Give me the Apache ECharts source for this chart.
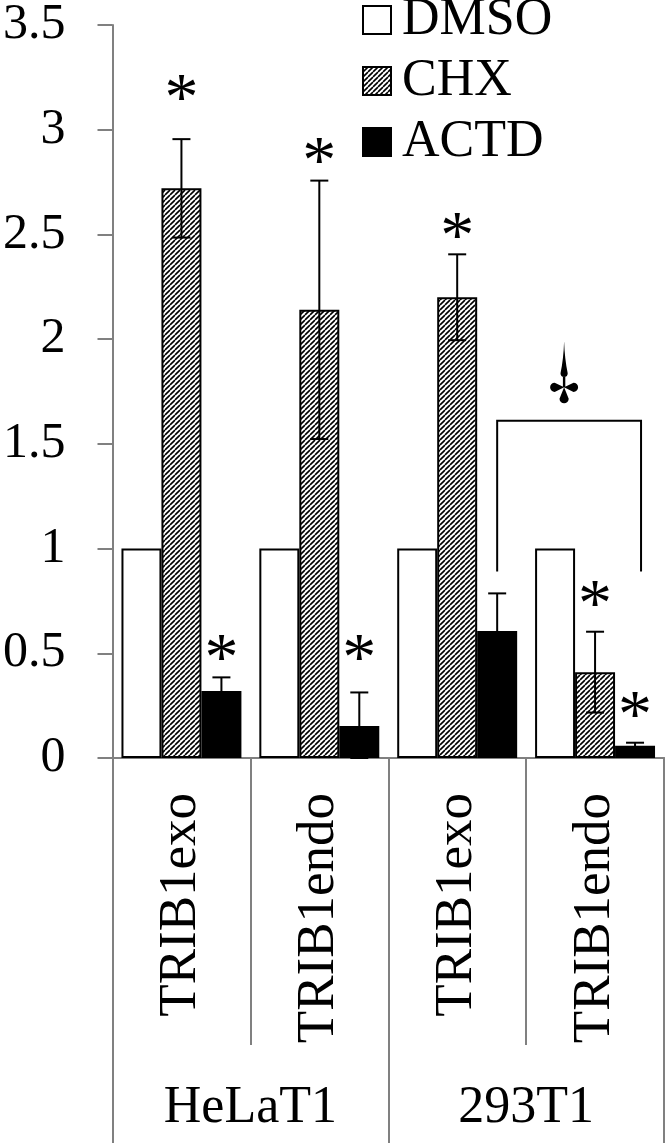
<!DOCTYPE html>
<html>
<head>
<meta charset="utf-8">
<script src="https://cdn.jsdelivr.net/npm/echarts@6/dist/echarts.min.js"></script>
<style>
html,body{margin:0;padding:0;background:#fff;}
#chart{width:665px;height:1143px;}
</style>
</head>
<body>
<div id="chart"></div>
<script>
// ---- data ----
const categories = ['TRIB1exo', 'TRIB1endo', 'TRIB1exo', 'TRIB1endo'];
const groups = ['HeLaT1', '293T1'];
const seriesNames = ['DMSO', 'CHX', 'ACTD'];
const dmso = [1, 1, 1, 1];
const chx = [2.72, 2.14, 2.20, 0.41];
const chxErr = [0.235, 0.617, 0.205, 0.193];
const actd = [0.32, 0.153, 0.606, 0.059];
const actdErr = [0.065, 0.16, 0.18, 0.014];
// significance stars: [category index, series index, y value]
const stars = [[0, 1, 3.20], [0, 2, 0.525], [1, 1, 2.895], [1, 2, 0.525], [2, 1, 2.537], [3, 1, 0.783], [3, 2, 0.253]];
// bracket: [from category, to category, series index, top value, leg value, mark value]
const bracket = [[2, 3, 2, 1.61, 0.89, 1.77]];
const yTicks = {min: 0, max: 3.5, interval: 0.5};

const FONT = '"Liberation Serif", "Times New Roman", serif';
const GRAY = '#808080';
const GAP = 0.13;
const STAR_SIZE = 68;

function makeHatch() {
  const s = 5;
  const c = document.createElement('canvas');
  c.width = s; c.height = s;
  const g = c.getContext('2d');
  g.fillStyle = '#fff';
  g.fillRect(0, 0, s, s);
  g.strokeStyle = '#000';
  g.lineWidth = 1.6;
  g.beginPath();
  for (let k = -1; k <= 2; k++) {
    g.moveTo(k * s, s);
    g.lineTo(k * s + s, 0);
  }
  g.stroke();
  return c;
}
const hatch = {image: makeHatch(), repeat: 'repeat'};

const errData = [];
chx.forEach((v, i) => errData.push([i, 1, v, chxErr[i]]));
actd.forEach((v, i) => errData.push([i, 2, v, actdErr[i]]));

function barWidth(api) {
  return api.size([1, 0])[0] * (1 - GAP) / 3;
}

// dagger-like glyph: teardrop lobes (narrow end at the centre) and a long top spike
function lobe(angle, d, r) {
  // lobe pointing down (angle 0), rotated by angle
  const pts = [[0, 0], [r, d - r], [-r, d - r]];
  const c = Math.cos(angle), s = Math.sin(angle);
  const rot = p => [p[0] * c - p[1] * s, p[0] * s + p[1] * c];
  const a = rot(pts[1]), b = rot(pts[2]);
  return 'M0 0 L' + a[0].toFixed(2) + ' ' + a[1].toFixed(2) +
    ' A' + r + ' ' + r + ' 0 1 1 ' + b[0].toFixed(2) + ' ' + b[1].toFixed(2) + ' Z ';
}
const daggerPath =
  lobe(0, 16, 4.6) +
  lobe(Math.PI / 2, 14, 4.6) +
  lobe(-Math.PI / 2, 14, 4.6) +
  'M0 -46 Q0.6 -28 3.6 -14 A3.6 3.6 0 0 1 -3.6 -14 Q-0.6 -28 0 -46 Z ' +
  'M-1.2 -12 L1.2 -12 L1.2 0 L-1.2 0 Z';

const chart = echarts.init(document.getElementById('chart'));
chart.setOption({
  animation: false,
  backgroundColor: '#fff',
  grid: {left: 110, right: 1, top: 25, bottom: 385, containLabel: false},
  legend: {
    orient: 'vertical',
    left: 362,
    top: -6,
    padding: 0,
    icon: 'rect',
    itemWidth: 28,
    itemHeight: 28,
    itemGap: 9,
    textStyle: {fontSize: 52, lineHeight: 52, fontFamily: FONT, color: '#000', padding: [0, 0, 0, 6]},
    data: [
      {name: 'DMSO', icon: 'rect', itemStyle: {color: '#fff', borderColor: '#000', borderWidth: 2}},
      {name: 'CHX', icon: 'rect', itemStyle: {color: hatch, borderColor: '#000', borderWidth: 2}},
      {name: 'ACTD', icon: 'rect', itemStyle: {color: '#000', borderColor: '#000', borderWidth: 2}}
    ]
  },
  xAxis: [
    {
      type: 'category',
      data: categories,
      position: 'bottom',
      axisLine: {show: true, lineStyle: {color: GRAY, width: 2}},
      axisTick: {show: true, interval: 0, length: 287, lineStyle: {color: GRAY, width: 2}},
      axisLabel: {interval: 0, rotate: 90, margin: 35, fontSize: 53, fontFamily: FONT, color: '#000'},
      splitLine: {show: false}
    },
    {
      type: 'category',
      data: groups,
      position: 'bottom',
      offset: 0,
      axisLine: {show: true, lineStyle: {color: GRAY, width: 2}},
      axisTick: {show: true, interval: 0, length: 385, lineStyle: {color: GRAY, width: 2}},
      axisLabel: {interval: 0, margin: 324, fontSize: 52, fontFamily: FONT, color: '#000'},
      splitLine: {show: false}
    }
  ],
  yAxis: {
    type: 'value',
    min: yTicks.min,
    max: yTicks.max,
    interval: yTicks.interval,
    axisLine: {show: true, lineStyle: {color: GRAY, width: 2}},
    axisTick: {show: true, length: 15, lineStyle: {color: GRAY, width: 2}},
    splitLine: {show: false},
    axisLabel: {fontSize: 50, fontFamily: FONT, color: '#000', margin: 47}
  },
  series: [
    {
      name: 'DMSO', type: 'bar', data: dmso, barGap: '0%', barCategoryGap: (GAP * 100) + '%',
      itemStyle: {color: '#fff', borderColor: '#000', borderWidth: 2}
    },
    {
      name: 'CHX', type: 'bar', data: chx, barGap: '0%', barCategoryGap: (GAP * 100) + '%',
      itemStyle: {color: hatch, borderColor: '#000', borderWidth: 2}
    },
    {
      name: 'ACTD', type: 'bar', data: actd, barGap: '0%', barCategoryGap: (GAP * 100) + '%',
      itemStyle: {color: '#000', borderColor: '#000', borderWidth: 2}
    },
    {
      type: 'custom', name: 'err', z: 5,
      data: errData,
      encode: {x: 0, y: 2},
      renderItem: function (params, api) {
        const cat = api.value(0), s = api.value(1), m = api.value(2), e = api.value(3);
        const bw = barWidth(api);
        const cx = api.coord([cat, m])[0] + (s - 1) * bw;
        const yT = api.coord([cat, m + e])[1];
        const yB = api.coord([cat, Math.max(0, m - e)])[1];
        const cap = 9;
        const st = {stroke: '#000', lineWidth: 2};
        return {type: 'group', children: [
          {type: 'line', shape: {x1: cx, y1: yT, x2: cx, y2: yB}, style: st},
          {type: 'line', shape: {x1: cx - cap, y1: yT, x2: cx + cap, y2: yT}, style: st},
          {type: 'line', shape: {x1: cx - cap, y1: yB, x2: cx + cap, y2: yB}, style: st}
        ]};
      }
    },
    {
      type: 'custom', name: 'stars', z: 6,
      data: stars,
      encode: {x: 0, y: 2},
      renderItem: function (params, api) {
        const cat = api.value(0), s = api.value(1), v = api.value(2);
        const bw = barWidth(api);
        const p = api.coord([cat, v]);
        return {type: 'text', style: {
          text: '*', x: p[0] + (s - 1) * bw, y: p[1] + STAR_SIZE * 0.19,
          align: 'center', verticalAlign: 'middle',
          fontSize: STAR_SIZE, fontFamily: FONT, fill: '#000'
        }};
      }
    },
    {
      type: 'custom', name: 'bracket', z: 6,
      data: bracket,
      encode: {x: 0, y: 3},
      renderItem: function (params, api) {
        const c1 = api.value(0), c2 = api.value(1), s = api.value(2);
        const top = api.value(3), leg = api.value(4), mark = api.value(5);
        const bw = barWidth(api);
        const x1 = api.coord([c1, top])[0] + (s - 1) * bw;
        const x2 = api.coord([c2, top])[0] + (s - 1) * bw + 0.15 * bw;
        const yT = api.coord([c1, top])[1];
        const yL = api.coord([c1, leg])[1];
        const yM = api.coord([c1, mark])[1];
        return {type: 'group', children: [
          {type: 'polyline', shape: {points: [[x1, yL], [x1, yT], [x2, yT], [x2, yL]]},
           style: {stroke: '#000', lineWidth: 2, fill: null}},
          {type: 'path', x: (x1 + x2) / 2 - 5, y: yM,
           shape: {pathData: daggerPath},
           style: {fill: '#000', stroke: null}}
        ]};
      }
    }
  ]
});
</script>
</body>
</html>
